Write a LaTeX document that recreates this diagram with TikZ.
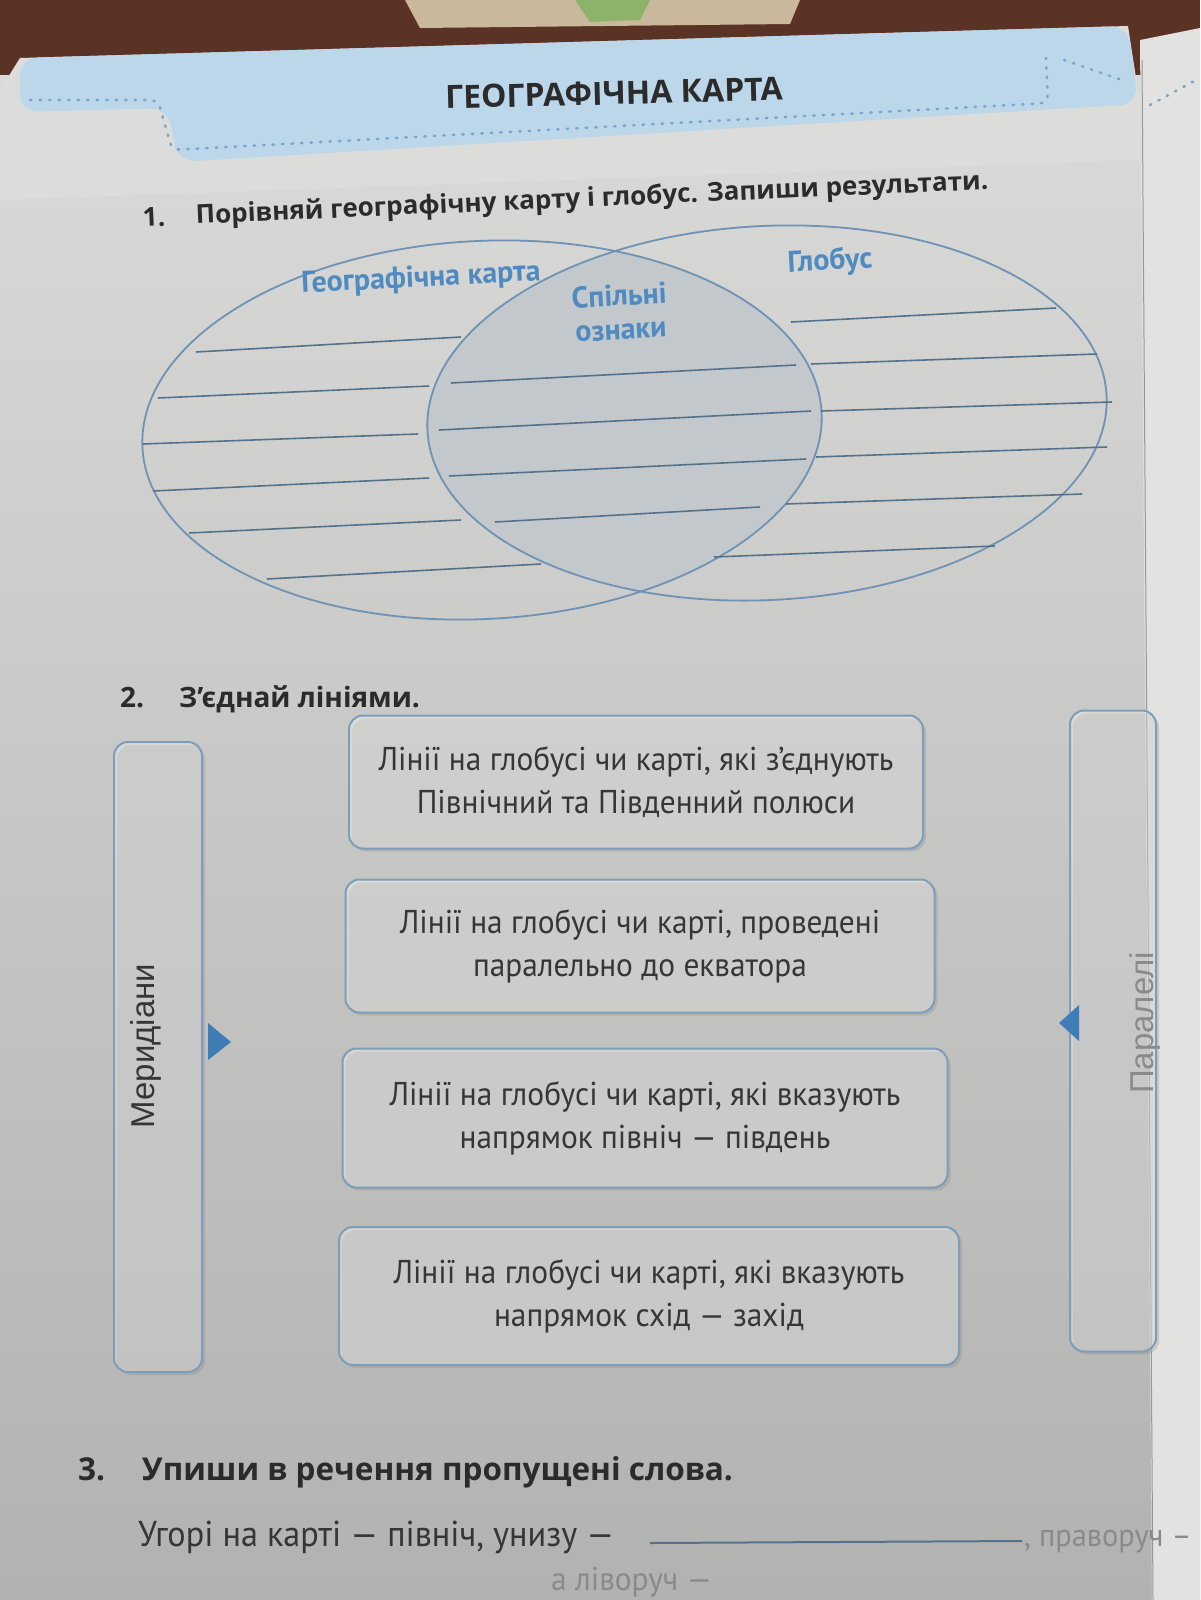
\documentclass[tikz,border=0pt]{standalone}
\usepackage{fontspec}
\setmainfont{PT Sans}
\newfontfamily\headfont{Open Sans}
\newfontfamily\condfont{PT Sans}[FakeStretch=0.95]
\newfontfamily\sidefont{Liberation Sans}
\usetikzlibrary{calc,shadows}
\definecolor{pagetop}{HTML}{DCDCDA}
\definecolor{pagebot}{HTML}{B2B2B1}
\definecolor{bannerblue}{HTML}{BCD6EA}
\definecolor{dotblue}{HTML}{7AA6CC}
\definecolor{venn}{HTML}{6E93B5}
\definecolor{lensfill}{HTML}{C3C8CC}
\definecolor{lblblue}{HTML}{4F8BC0}
\definecolor{wline}{HTML}{55728C}
\definecolor{boxline}{HTML}{7D9DB8}
\definecolor{triblue}{HTML}{3E7DB5}
\definecolor{txt}{HTML}{2B2B2B}
\definecolor{boxtxt}{HTML}{363636}
\definecolor{greytxt}{HTML}{8A8A8A}
\definecolor{brownbg}{HTML}{5B3326}
\definecolor{beigebg}{HTML}{C9B89C}
\definecolor{greenbg}{HTML}{8DB36B}
\definecolor{nextpage}{HTML}{E2E2E0}
\tikzset{
  heading/.style={font=\headfont\bfseries\fontsize{26}{32}\selectfont, text=txt, inner sep=0pt},
  vennlbl/.style={font=\bfseries\fontsize{30}{34}\selectfont, text=lblblue, inner sep=0pt, rotate=3},
  writeline/.style={wline, line width=1.6pt},
  mbox/.style={draw=boxline, line width=2pt, rounded corners=14pt, fill=white, fill opacity=0.35, text opacity=1,
    text=boxtxt, align=center, font=\condfont\fontsize{33}{43}\selectfont,
    drop shadow={shadow xshift=3pt, shadow yshift=-3pt, opacity=0.25}},
  sidebox/.style={draw=boxline, line width=2pt, rounded corners=14pt, fill=white, fill opacity=0.3,
    drop shadow={shadow xshift=3pt, shadow yshift=-3pt, opacity=0.25}},
  sidetxt/.style={rotate=90, font=\sidefont\fontsize{33}{38}\selectfont, inner sep=0pt},
  bodytxt/.style={font=\condfont\fontsize{36}{44}\selectfont, text=boxtxt, inner sep=0pt, anchor=base west}
}
\begin{document}
\begin{tikzpicture}[x=1pt, y=-1pt]
\useasboundingbox (0,0) rectangle (1200,1600);
\begin{scope}
\clip (0,0) rectangle (1200,1600);
% background
\shade[top color=pagetop, bottom color=pagebot] (0,0) rectangle (1200,1600);
\fill[brownbg] (0,0) rectangle (1200,75);
\fill[beigebg] (405,0) -- (800,0) -- (790,24) -- (420,28) -- cycle;
\fill[greenbg] (575,0) -- (650,0) -- (640,20) -- (590,22) -- cycle;
\fill[nextpage] (1140,40) -- (1200,28) -- (1200,1600) -- (1152,1600) -- cycle;
\draw[pagebot!85!black, line width=1pt] (1142,60) -- (1153,1600);
% page body below banner
\fill[pagetop] (20,58) -- (1128,26) -- (1140,104) -- (1140,160) -- (0,200) -- (0,90) -- cycle;
% banner
\fill[bannerblue, rounded corners=18pt] (20,58) -- (1128,26) -- (1138,104) -- (178,162) -- (168,108) -- (20,112) -- cycle;
\draw[dotblue, line width=2.5pt, dash pattern=on 1.5pt off 8pt, line cap=round, rounded corners=8pt]
  (30,100) -- (158,100) -- (172,150) -- (1048,103) -- (1046,58);
\draw[dotblue, line width=2.5pt, dash pattern=on 1.5pt off 8pt, line cap=round]
  (1064,60) -- (1122,80);
\draw[dotblue, line width=2.5pt, dash pattern=on 1.5pt off 8pt, line cap=round]
  (1150,105) -- (1196,80);
\node[font=\headfont\bfseries\fontsize{32}{38}\selectfont, text=txt, rotate=1.5] (title) at (614,93) {ГЕОГРАФІЧНА КАРТА};
% task 1
\node[heading, anchor=base west, rotate=2.5] (t1num) at (143,227) {1.};
\node[heading, anchor=base west, rotate=2.5] (t1txt) at (196,224) {Порівняй географічну карту і глобус. Запиши результати.};
% venn
\coordinate (L) at (482,430);
\coordinate (R) at (767,413);
\begin{scope}
\clip[rotate around={3:(L)}] (L) ellipse [x radius=340pt, y radius=189pt];
\fill[lensfill, rotate around={3:(R)}] (R) ellipse [x radius=340pt, y radius=187pt];
\end{scope}
\draw[venn, line width=1.8pt, rotate around={3:(L)}] (L) ellipse [x radius=340pt, y radius=189pt];
\draw[venn, line width=1.8pt, rotate around={3:(R)}] (R) ellipse [x radius=340pt, y radius=187pt];
\node[vennlbl] (lmap) at (421,279) {Географічна карта};
\node[vennlbl, align=center] (common) at (620,312) {Спільні\\ознаки};
\node[vennlbl] (globe) at (830,262) {Глобус};
% writing lines left
\draw[writeline] (196,352) -- (461,337);
\draw[writeline] (158,398) -- (429,386);
\draw[writeline] (143,444) -- (418,434);
\draw[writeline] (153,491) -- (429,478);
\draw[writeline] (189,533) -- (461,520);
\draw[writeline] (267,579) -- (541,564);
% middle
\draw[writeline] (451,383) -- (796,365);
\draw[writeline] (439,430) -- (811,411);
\draw[writeline] (449,476) -- (806,459);
\draw[writeline] (495,522) -- (760,507);
% right
\draw[writeline] (791,322) -- (1056,308);
\draw[writeline] (811,364) -- (1097,354);
\draw[writeline] (821,411) -- (1112,402);
\draw[writeline] (816,457) -- (1107,447);
\draw[writeline] (786,504) -- (1082,494);
\draw[writeline] (714,557) -- (995,546);
% task 2
\node[heading, anchor=base west, font=\headfont\bfseries\fontsize{28}{34}\selectfont] (t2num) at (120,707) {2.};
\node[heading, anchor=base west, font=\headfont\bfseries\fontsize{28}{34}\selectfont] (t2txt) at (179,707) {З’єднай лініями.};
\node[sidebox, minimum width=88pt, minimum height=630pt] (mer) at (158,1057) {};
\node[sidetxt, text=boxtxt] (mertxt) at (146,1046) {Меридіани};
\node[sidebox, minimum width=86pt, minimum height=641pt] (par) at (1113,1031) {};
\node[sidetxt, text=greytxt] (partxt) at (1145,1023) {Паралелі};
\fill[triblue] ($(mer.east)+(5,-34)$) -- ($(mer.east)+(5,3)$) -- ($(mer.east)+(28,-15)$) -- cycle;
\fill[triblue] ($(par.west)+(10,-26)$) -- ($(par.west)+(10,10)$) -- ($(par.west)+(-10,-8)$) -- cycle;
\node[mbox, minimum width=574pt, minimum height=133pt] (b1) at (636,782) {Лінії на глобусі чи карті, які з’єднують\\Північний та Південний полюси};
\node[mbox, minimum width=589pt, minimum height=133pt] (b2) at (640,946) {Лінії на глобусі чи карті, проведені\\паралельно до екватора};
\node[mbox, minimum width=605pt, minimum height=139pt] (b3) at (645,1118) {Лінії на глобусі чи карті, які вказують\\напрямок північ — південь};
\node[mbox, minimum width=620pt, minimum height=138pt] (b4) at (649,1296) {Лінії на глобусі чи карті, які вказують\\напрямок схід — захід};
% task 3
\node[heading, anchor=base west, font=\headfont\bfseries\fontsize{31.5}{38}\selectfont] (t3num) at (78,1480) {3.};
\node[heading, anchor=base west, font=\headfont\bfseries\fontsize{31.5}{38}\selectfont] (t3txt) at (142,1480) {Упиши в речення пропущені слова.};
\node[bodytxt] (s1) at (138,1546) {Угорі на карті — північ, унизу —};
\coordinate (blankA) at (650,1543);
\coordinate (blankB) at (1022,1541);
\draw[wline, line width=2pt] (blankA) -- (blankB);
\node[bodytxt, text=greytxt, font=\condfont\fontsize{32}{38}\selectfont] (s2) at (1024,1546) {, праворуч –};
\node[bodytxt, text=greytxt, font=\condfont\fontsize{33}{38}\selectfont] (s3) at (551,1590) {а ліворуч —};
\end{scope}
\end{tikzpicture}
\end{document}
